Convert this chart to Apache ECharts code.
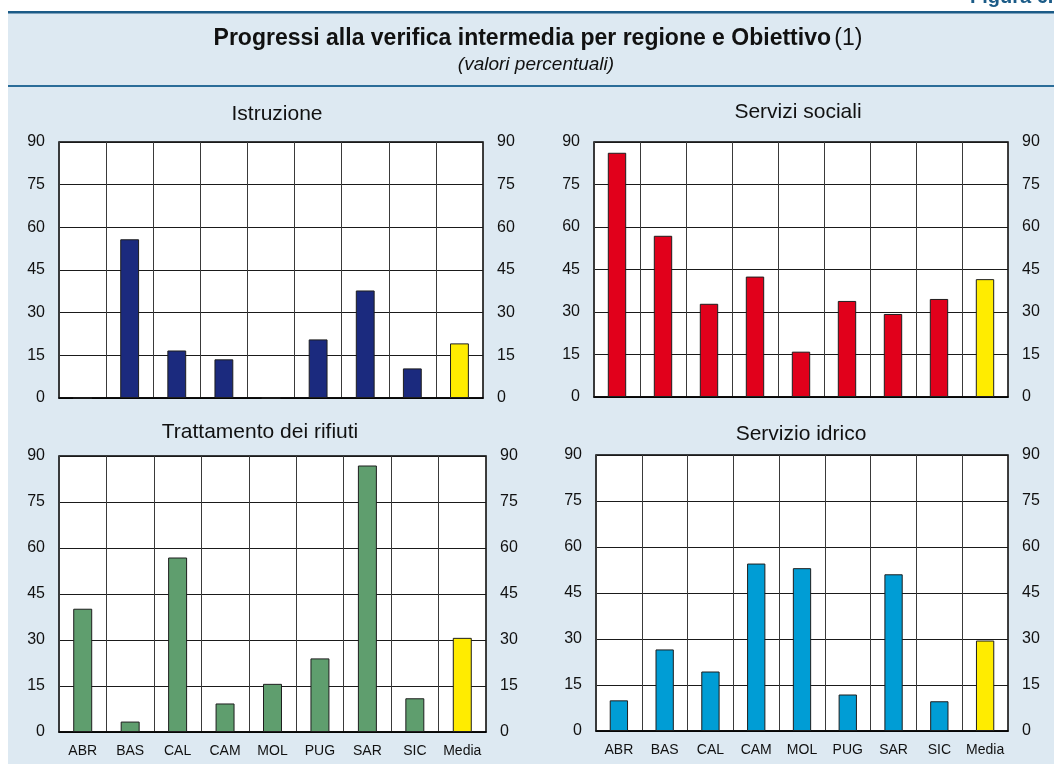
<!DOCTYPE html>
<html>
<head>
<meta charset="utf-8">
<script src="https://cdn.jsdelivr.net/npm/echarts@6/dist/echarts.min.js"></script>
<style>
html,body{margin:0;padding:0;background:#fff;}
#c{width:1054px;height:764px;}
</style>
</head>
<body>
<div id="c"></div>
<script>
const categories = ['ABR','BAS','CAL','CAM','MOL','PUG','SAR','SIC','Media'];
const yTicks = [0, 15, 30, 45, 60, 75, 90];
const panelTitles = ['Istruzione','Servizi sociali','Trattamento dei rifiuti','Servizio idrico'];
const istruzione = [0, 55.8, 16.7, 13.6, 0, 20.6, 37.8, 10.4, 19.2];
const serviziSociali = [86.2, 56.9, 32.9, 42.5, 16.0, 33.9, 29.3, 34.6, 41.6];
const rifiuti = [40.2, 3.4, 56.9, 9.3, 15.7, 24.0, 86.9, 11.0, 30.7];
const idrico = [10.0, 26.6, 19.4, 54.6, 53.1, 11.9, 51.1, 9.7, 29.5];

const seriesValues = [istruzione, serviziSociali, rifiuti, idrico];
const seriesColors = ['#1b2a7e', '#e1001b', '#5f9e6e', '#009dd5'];
const mediaColor = '#ffec00';
const FONT = '"Liberation Sans", Arial, sans-serif';

const grids = [
  {left: 59, top: 142, width: 424, height: 256},
  {left: 594, top: 142, width: 414, height: 255},
  {left: 59, top: 456, width: 427, height: 276},
  {left: 596, top: 455, width: 412, height: 276}
];
const titlePos = [
  {x: 277, y: 114}, {x: 798, y: 112}, {x: 260, y: 432}, {x: 801, y: 434}
];

const yMin = yTicks[0], yMax = yTicks[yTicks.length - 1], yInt = yTicks[1] - yTicks[0];

const option = {
  animation: false,
  backgroundColor: '#ffffff',
  grid: grids.map(g => Object.assign({show: true, backgroundColor: '#ffffff', borderColor: '#000', borderWidth: 1.5, containLabel: false}, g)),
  xAxis: grids.map((g, i) => ({
    type: 'category', gridIndex: i, data: categories,
    axisLine: {show: true, lineStyle: {color: '#000', width: 1.5}},
    axisTick: {show: false},
    splitLine: {show: true, lineStyle: {color: '#3a3a3a', width: 1}},
    axisLabel: {show: i >= 2, color: '#111', fontFamily: FONT, fontSize: 14, margin: 12, interval: 0}
  })),
  yAxis: [],
  series: [],
  graphic: [
    {type: 'rect', shape: {x: 8, y: 13, width: 1046, height: 751}, style: {fill: '#dde9f2'}, z: -10, silent: true},
    {type: 'rect', shape: {x: 8, y: 11, width: 1046, height: 2.5}, style: {fill: '#1b5b87'}, z: -9, silent: true},
    {type: 'rect', shape: {x: 8, y: 85, width: 1046, height: 2}, style: {fill: '#2b6d99'}, z: -9, silent: true},
    {type: 'text', x: 970, y: -13, style: {text: 'Figura 6.', align: 'left', verticalAlign: 'top', font: 'bold 20px ' + FONT, fill: '#1b5b87'}},
    {type: 'text', x: 538, y: 39, style: {
      text: '{b|Progressi alla verifica intermedia per regione e Obiettivo} {n|(1)}',
      align: 'center', verticalAlign: 'middle',
      rich: {
        b: {font: 'bold 23px ' + FONT, fill: '#111'},
        n: {font: '23px ' + FONT, fill: '#111'}
      }
    }},
    {type: 'text', x: 536, y: 65, style: {text: '(valori percentuali)', align: 'center', verticalAlign: 'middle', font: 'italic 19px ' + FONT, fill: '#111'}}
  ]
};

titlePos.forEach((p, i) => {
  option.graphic.push({type: 'text', x: p.x, y: p.y, style: {text: panelTitles[i], align: 'center', verticalAlign: 'middle', font: '21px ' + FONT, fill: '#111'}});
});

grids.forEach((g, i) => {
  ['left', 'right'].forEach(pos => {
    option.yAxis.push({
      type: 'value', gridIndex: i, position: pos, min: yMin, max: yMax, interval: yInt,
      axisLine: {show: false}, axisTick: {show: false},
      splitLine: {show: pos === 'left', lineStyle: {color: '#1a1a1a', width: 1}},
      axisLabel: {color: '#111', fontFamily: FONT, fontSize: 16, margin: 14}
    });
  });
  option.series.push({
    type: 'bar', xAxisIndex: i, yAxisIndex: i * 2, barWidth: '40%',
    data: seriesValues[i].map((v, k) => ({
      value: v,
      itemStyle: {color: categories[k] === 'Media' ? mediaColor : seriesColors[i]}
    })),
    itemStyle: {borderColor: '#1e1e1e', borderWidth: 1}
  });
});

const chart = echarts.init(document.getElementById('c'), null, {renderer: 'canvas'});
chart.setOption(option);
</script>
</body>
</html>
